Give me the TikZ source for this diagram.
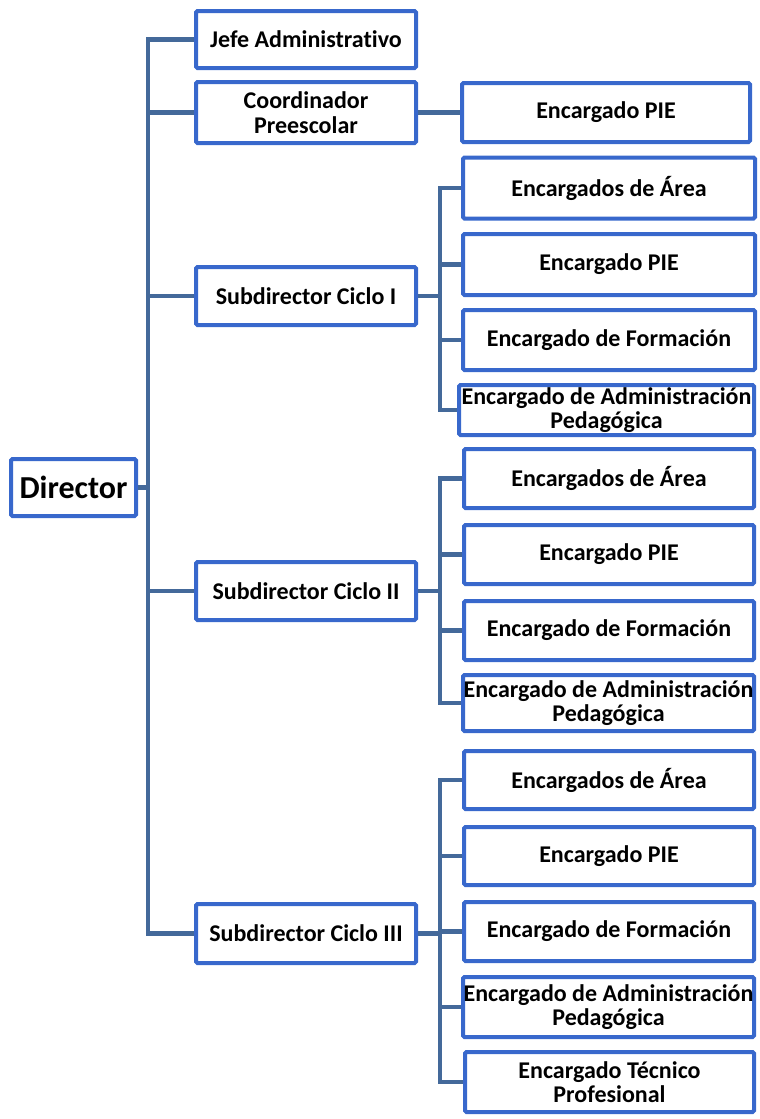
\documentclass[tikz,border=0pt]{standalone}
\usepackage{fontspec}
\setmainfont{Carlito}[Ligatures=NoCommon]
\begin{document}
\begin{tikzpicture}[x=1pt,y=-1pt,
  box/.style={draw=boxblue, line width=4pt, rounded corners=1.5pt, fill=white, align=center,
    font=\fontsize{24}{24.5}\selectfont\bfseries, inner sep=0pt},
  conn/.style={draw=lineblue, line width=4.5pt, line join=miter}]
\definecolor{boxblue}{RGB}{56,104,204}
\definecolor{lineblue}{RGB}{68,105,154}
\useasboundingbox (0,0) rectangle (760,1119);
\coordinate (busx) at (148,0);
\coordinate (subx) at (440,0);
% level 1
\node[box, minimum width=125pt, minimum height=57pt, font=\fontsize{32}{34}\selectfont\bfseries] (dir) at (73.5,487.5) {Director};
\node[box, minimum width=220pt, minimum height=57pt] (jefe) at (306,39.5) {Jefe Administrativo};
\node[box, minimum width=220pt, minimum height=61pt] (coord) at (306,112.5) {Coordinador\\Preescolar};
\node[box, minimum width=220pt, minimum height=58pt] (sub1) at (306,296) {Subdirector Ciclo I};
\node[box, minimum width=220pt, minimum height=58pt] (sub2) at (306,591) {Subdirector Ciclo II};
\node[box, minimum width=220pt, minimum height=59pt] (sub3) at (306,933.5) {Subdirector Ciclo III};
% coordinador child
\node[box, minimum width=288pt, minimum height=59pt] (pie0) at (606,112.5) {Encargado PIE};
% group I
\node[box, minimum width=292pt, minimum height=61pt] (a1) at (609,188) {Encargados de Área};
\node[box, minimum width=292pt, minimum height=61pt] (p1) at (609,264.5) {Encargado PIE};
\node[box, minimum width=292pt, minimum height=60pt] (f1) at (609,340) {Encargado de Formación};
\node[box, minimum width=295pt, minimum height=50pt] (d1) at (606.5,410) {Encargado de Administración\\Pedagógica};
% group II
\node[box, minimum width=290pt, minimum height=59pt] (a2) at (609,478.5) {Encargados de Área};
\node[box, minimum width=290pt, minimum height=59pt] (p2) at (609,554.5) {Encargado PIE};
\node[box, minimum width=290pt, minimum height=59pt] (f2) at (609,630.5) {Encargado de Formación};
\node[box, minimum width=291pt, minimum height=56pt] (d2) at (608.5,703) {Encargado de Administración\\Pedagógica};
% group III
\node[box, minimum width=290pt, minimum height=58pt] (a3) at (609,780) {Encargados de Área};
\node[box, minimum width=290pt, minimum height=58pt] (p3) at (609,856) {Encargado PIE};
\node[box, minimum width=290pt, minimum height=59pt] (f3) at (609,931.5) {Encargado de Formación};
\node[box, minimum width=291pt, minimum height=60pt] (d3) at (608.5,1007) {Encargado de Administración\\Pedagógica};
\node[box, minimum width=289pt, minimum height=60pt] (t3) at (609.5,1082) {Encargado Técnico\\Profesional};
% connectors level 1
\draw[conn] (jefe.west) -- (jefe.west -| busx) -- (sub3.west -| busx) -- (sub3.west);
\draw[conn] (coord.west) -- (coord.west -| busx);
\draw[conn] (sub1.west) -- (sub1.west -| busx);
\draw[conn] (sub2.west) -- (sub2.west -| busx);
\draw[conn] (dir.east) -- (dir.east -| busx);
\draw[conn] (coord.east) -- (pie0.west);
% group I
\draw[conn] (a1.west) -- (a1.west -| subx) -- (d1.west -| subx) -- (d1.west);
\draw[conn] (p1.west) -- (p1.west -| subx);
\draw[conn] (f1.west) -- (f1.west -| subx);
\draw[conn] (sub1.east) -- (sub1.east -| subx);
% group II
\draw[conn] (a2.west) -- (a2.west -| subx) -- (d2.west -| subx) -- (d2.west);
\draw[conn] (p2.west) -- (p2.west -| subx);
\draw[conn] (f2.west) -- (f2.west -| subx);
\draw[conn] (sub2.east) -- (sub2.east -| subx);
% group III
\draw[conn] (a3.west) -- (a3.west -| subx) -- (t3.west -| subx) -- (t3.west);
\draw[conn] (p3.west) -- (p3.west -| subx);
\draw[conn] (f3.west) -- (f3.west -| subx);
\draw[conn] (d3.west) -- (d3.west -| subx);
\draw[conn] (sub3.east) -- (sub3.east -| subx);
\end{tikzpicture}
\end{document}
